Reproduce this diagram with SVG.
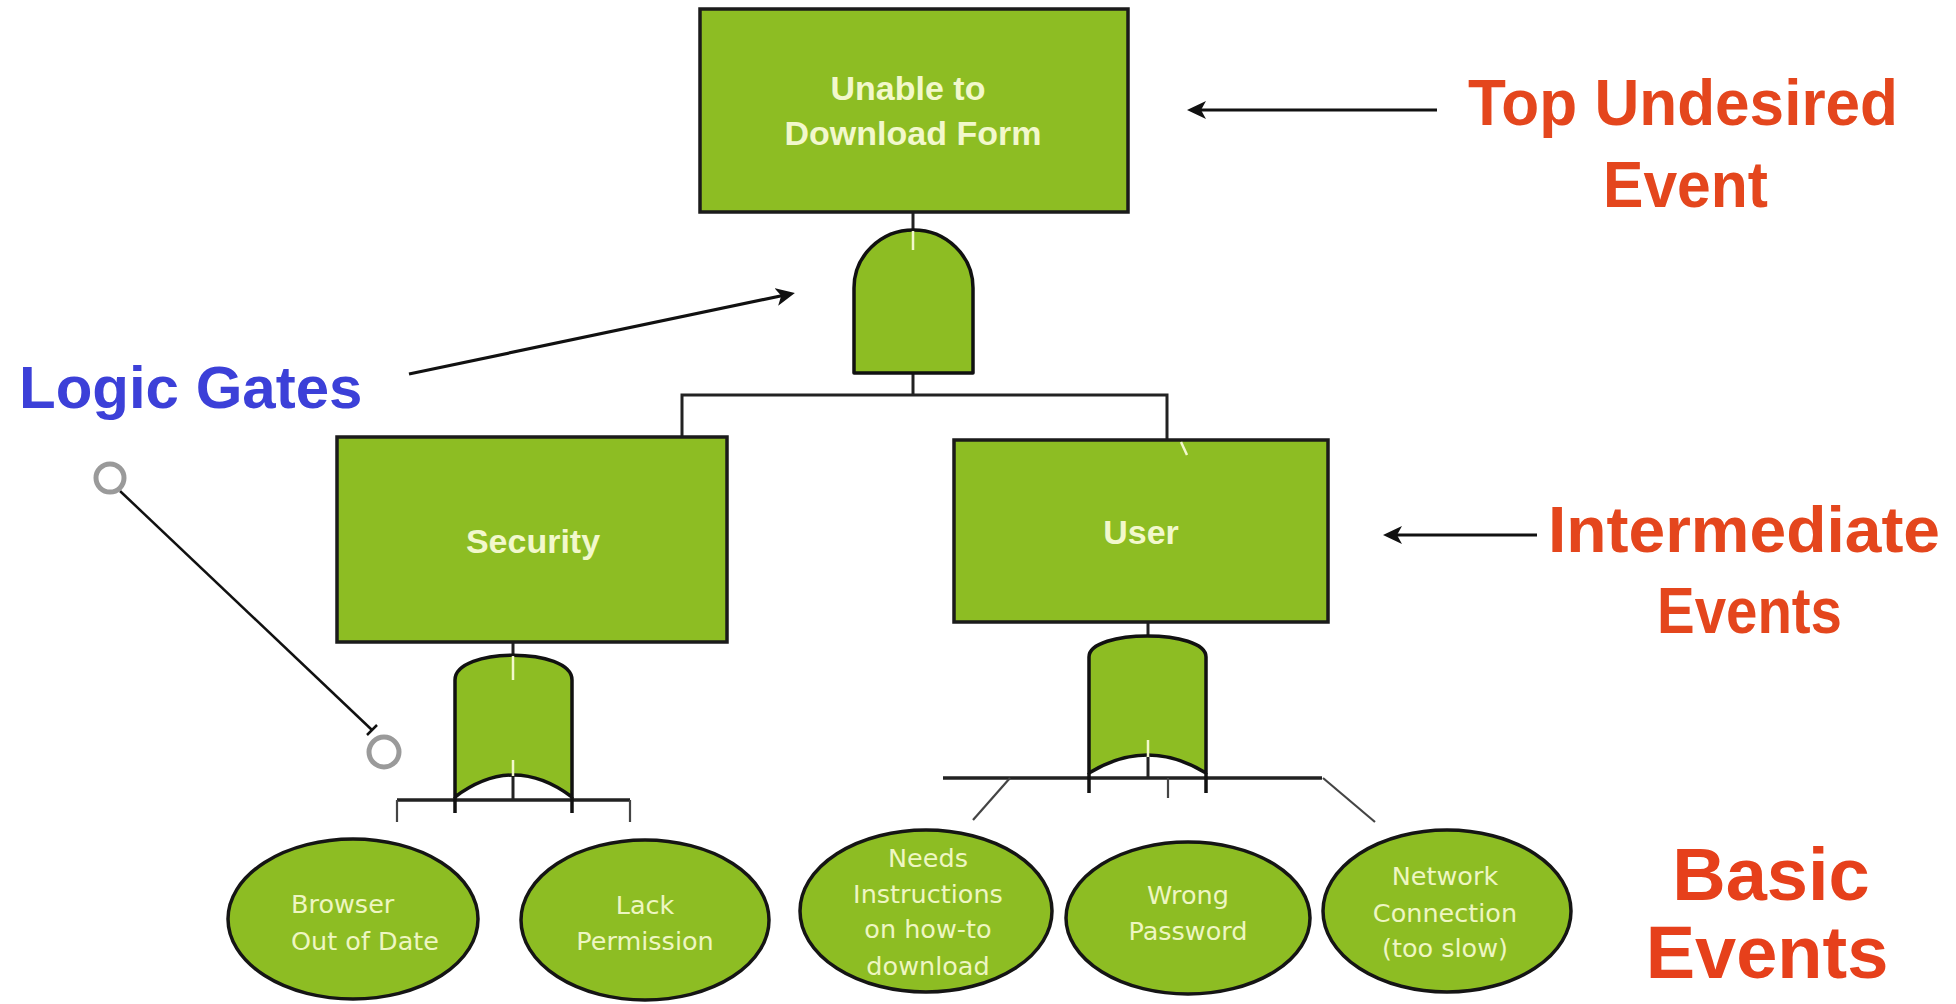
<svg xmlns="http://www.w3.org/2000/svg" width="1956" height="1004" viewBox="0 0 1956 1004">
<defs>
<style>
.box{fill:#8dbd23;stroke:#1b1b1b;stroke-width:3.5}
.gate{fill:#8dbd23;stroke:#111;stroke-width:3.5;stroke-linejoin:round}
.ev{fill:#8dbd23;stroke:#151515;stroke-width:3.5}
.bt{font-family:"Liberation Sans",Arial,sans-serif;font-weight:bold;font-size:34px;fill:#f2f8cc;text-anchor:middle}
.et{font-family:"DejaVu Sans",Verdana,sans-serif;font-size:25.5px;fill:#eef6c2;text-anchor:middle}
.red{font-family:"Liberation Sans",Arial,sans-serif;font-weight:bold;font-size:64px;fill:#e4461d}
.basic{font-family:"Liberation Sans",Arial,sans-serif;font-weight:bold;font-size:74px;fill:#e6401b;text-anchor:middle}
.blue{font-family:"Liberation Sans",Arial,sans-serif;font-weight:bold;font-size:60px;fill:#3c40d8}
.wire{stroke:#222;stroke-width:3;fill:none}
.thin{stroke:#444;stroke-width:2.2;fill:none}
.tick{stroke:#f2f8cc;stroke-width:2.5;fill:none}
.arrow{stroke:#111;stroke-width:3.2;fill:none;marker-end:url(#ah)}
.ring{fill:#fff;stroke:#9a9a9a;stroke-width:5}
</style>
<marker id="ah" markerUnits="userSpaceOnUse" markerWidth="22" markerHeight="20" refX="14" refY="9" orient="auto">
<path d="M0,0 L19,9 L0,18 L5,9 Z" fill="#111"/>
</marker>
</defs>
<rect width="1956" height="1004" fill="#fff"/>

<g id="connectors">
<line class="wire" x1="913" y1="212" x2="913" y2="230"/>
<line class="wire" x1="913" y1="373" x2="913" y2="395"/>
<polyline class="wire" points="682,437 682,395 1167,395 1167,440"/>
<line class="wire" x1="513" y1="642" x2="513" y2="655"/>
<line class="wire" x1="513" y1="776" x2="513" y2="800"/>
<line class="wire" x1="397" y1="800" x2="630" y2="800" style="stroke-width:3.5"/>
<line class="thin" x1="397" y1="800" x2="397" y2="822"/>
<line class="thin" x1="630" y1="800" x2="630" y2="822"/>
<line class="wire" x1="1148" y1="622" x2="1148" y2="637"/>
<line class="wire" x1="1148" y1="757" x2="1148" y2="778"/>
<line class="wire" x1="943" y1="778" x2="1322" y2="778" style="stroke-width:3.5"/>
<line class="thin" x1="1010" y1="778" x2="973" y2="820"/>
<line class="thin" x1="1323" y1="778" x2="1375" y2="822"/>
<line class="thin" x1="1168" y1="778" x2="1168" y2="798"/>
<line class="arrow" x1="1437" y1="110" x2="1192" y2="110"/>
<line class="arrow" x1="1537" y1="535" x2="1388" y2="535"/>
<line class="arrow" x1="409" y1="374" x2="790" y2="294"/>
<line stroke="#111" stroke-width="2.5" x1="120" y1="491" x2="372" y2="730"/>
<line stroke="#111" stroke-width="2.5" x1="367" y1="735" x2="377" y2="725"/>
</g>

<g id="node-top">
<rect class="box" x="700" y="9" width="428" height="203"/>
<text class="bt" x="908" y="100">Unable to</text>
<text class="bt" x="913" y="145">Download Form</text>
</g>

<g id="gate-and-top">
<path class="gate" d="M854,373 L854,288 A59.5,58 0 0 1 973,288 L973,373 Z"/>
<line class="tick" x1="913" y1="231" x2="913" y2="250"/>
</g>

<g id="node-security">
<rect class="box" x="337" y="437" width="390" height="205"/>
<text class="bt" x="533" y="553">Security</text>
</g>

<g id="gate-or-security">
<path class="gate" d="M455,797 L455,680 C455,647 572,647 572,680 L572,797 Q513.5,753 455,797 Z"/>
<line class="gate" x1="455" y1="797" x2="455" y2="813"/>
<line class="gate" x1="572" y1="797" x2="572" y2="813"/>
<line class="tick" x1="513" y1="656" x2="513" y2="680"/>
<line class="tick" x1="513" y1="760" x2="513" y2="776"/>
</g>

<g id="node-user">
<rect class="box" x="954" y="440" width="374" height="182"/>
<text class="bt" x="1141" y="544">User</text>
<line class="tick" x1="1181" y1="442" x2="1187" y2="455"/>
</g>

<g id="gate-or-user">
<path class="gate" d="M1089,773 L1089,657 C1089,629 1206,629 1206,657 L1206,773 Q1147.5,737 1089,773 Z"/>
<line class="gate" x1="1089" y1="773" x2="1089" y2="793"/>
<line class="gate" x1="1206" y1="773" x2="1206" y2="793"/>
<line class="tick" x1="1148" y1="740" x2="1148" y2="757"/>
</g>

<g id="event-browser">
<ellipse class="ev" cx="353" cy="919" rx="125" ry="80"/>
<text class="et" x="291" y="913" style="text-anchor:start">Browser</text>
<text class="et" x="291" y="950" style="text-anchor:start">Out of Date</text>
</g>

<g id="event-lack">
<ellipse class="ev" cx="645" cy="920" rx="124" ry="80"/>
<text class="et" x="645" y="914">Lack</text>
<text class="et" x="645" y="950">Permission</text>
</g>

<g id="event-needs">
<ellipse class="ev" cx="926" cy="911" rx="126" ry="81"/>
<text class="et" x="928" y="867">Needs</text>
<text class="et" x="928" y="903">Instructions</text>
<text class="et" x="928" y="938">on how-to</text>
<text class="et" x="928" y="975">download</text>
</g>

<g id="event-wrong">
<ellipse class="ev" cx="1188" cy="918" rx="122" ry="76"/>
<text class="et" x="1188" y="904">Wrong</text>
<text class="et" x="1188" y="940">Password</text>
</g>

<g id="event-network">
<ellipse class="ev" cx="1447" cy="911" rx="124" ry="81"/>
<text class="et" x="1445" y="885">Network</text>
<text class="et" x="1445" y="922">Connection</text>
<text class="et" x="1445" y="957">(too slow)</text>
</g>

<g id="label-top">
<text class="red" x="1468" y="125" textLength="430" lengthAdjust="spacingAndGlyphs">Top Undesired</text>
<text class="red" x="1603" y="207" textLength="165" lengthAdjust="spacingAndGlyphs">Event</text>
</g>

<g id="label-intermediate">
<text class="red" x="1548" y="552" textLength="392" lengthAdjust="spacingAndGlyphs">Intermediate</text>
<text class="red" x="1657" y="633" textLength="185" lengthAdjust="spacingAndGlyphs">Events</text>
</g>

<g id="label-basic">
<text class="basic" x="1771" y="900">Basic</text>
<text class="basic" x="1767" y="978">Events</text>
</g>

<g id="label-logic">
<text class="blue" x="19" y="408">Logic Gates</text>
<circle class="ring" cx="110" cy="478" r="14"/>
<circle class="ring" cx="384" cy="752" r="15"/>
</g>
</svg>
